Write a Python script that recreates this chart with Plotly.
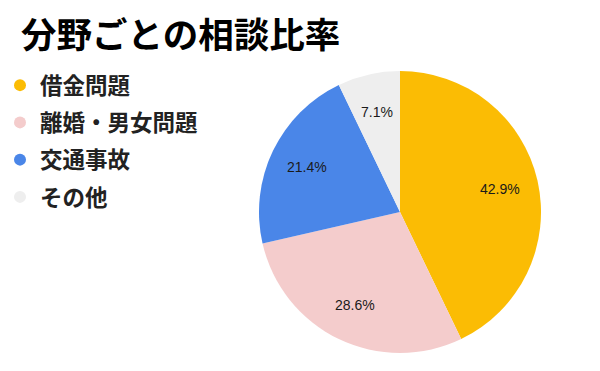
import math
import plotly.graph_objects as go

categories = ["借金問題", "離婚・男女問題", "交通事故", "その他"]
values = [6, 4, 3, 1]
colors = ["#FBBC04", "#F4CCCC", "#4A86E8", "#EEEEEE"]
title_text = "分野ごとの相談比率"

W, H = 600, 371
cx, cy, r = 400, 212, 141
label_r = 0.73

fig = go.Figure()
fig.add_trace(go.Pie(
    labels=categories, values=values, sort=False, direction="clockwise", rotation=0,
    marker=dict(colors=colors, line=dict(width=0)),
    textinfo="none", showlegend=False, hoverinfo="label+percent",
    domain=dict(x=[(cx - r) / W, (cx + r) / W], y=[(H - cy - r) / H, (H - cy + r) / H]),
))
for i, (c, col) in enumerate(zip(categories, colors)):
    fig.add_trace(go.Scatter(
        x=[None], y=[None], mode="markers", name=c, legendgroup=str(i),
        marker=dict(symbol="circle", size=12, color=col),
    ))

# percent labels placed along each slice's mid-angle
total = sum(values)
cum = 0
annotations = []
for v in values:
    mid = (cum + v / 2) / total * 2 * math.pi
    cum += v
    px = cx + label_r * r * math.sin(mid)
    py = cy - label_r * r * math.cos(mid)
    annotations.append(dict(
        x=px / W, y=1 - py / H, xref="paper", yref="paper", showarrow=False,
        text=f"{v / total * 100:.1f}%", xanchor="center", yanchor="middle",
        font=dict(family="Liberation Sans, Arial", size=14, color="#1a1a1a"),
    ))

fig.update_layout(
    width=W, height=H, margin=dict(l=0, r=0, t=0, b=0),
    paper_bgcolor="white", plot_bgcolor="white",
    xaxis=dict(visible=False), yaxis=dict(visible=False),
    annotations=annotations,
    title=dict(text=title_text, x=21 / W, xanchor="left", y=1 - 36 / H, yanchor="middle",
               font=dict(family="Noto Sans CJK JP", size=35.5, color="#000000", weight="bold")),
    legend=dict(x=0, xanchor="left", y=1 - 64 / H, yanchor="top",
                font=dict(family="Noto Sans CJK JP", size=22.5, color="#222222", weight="bold"),
                traceorder="grouped", tracegroupgap=5, itemwidth=30, bgcolor="rgba(0,0,0,0)"),
)
fig.write_html("out.html")
